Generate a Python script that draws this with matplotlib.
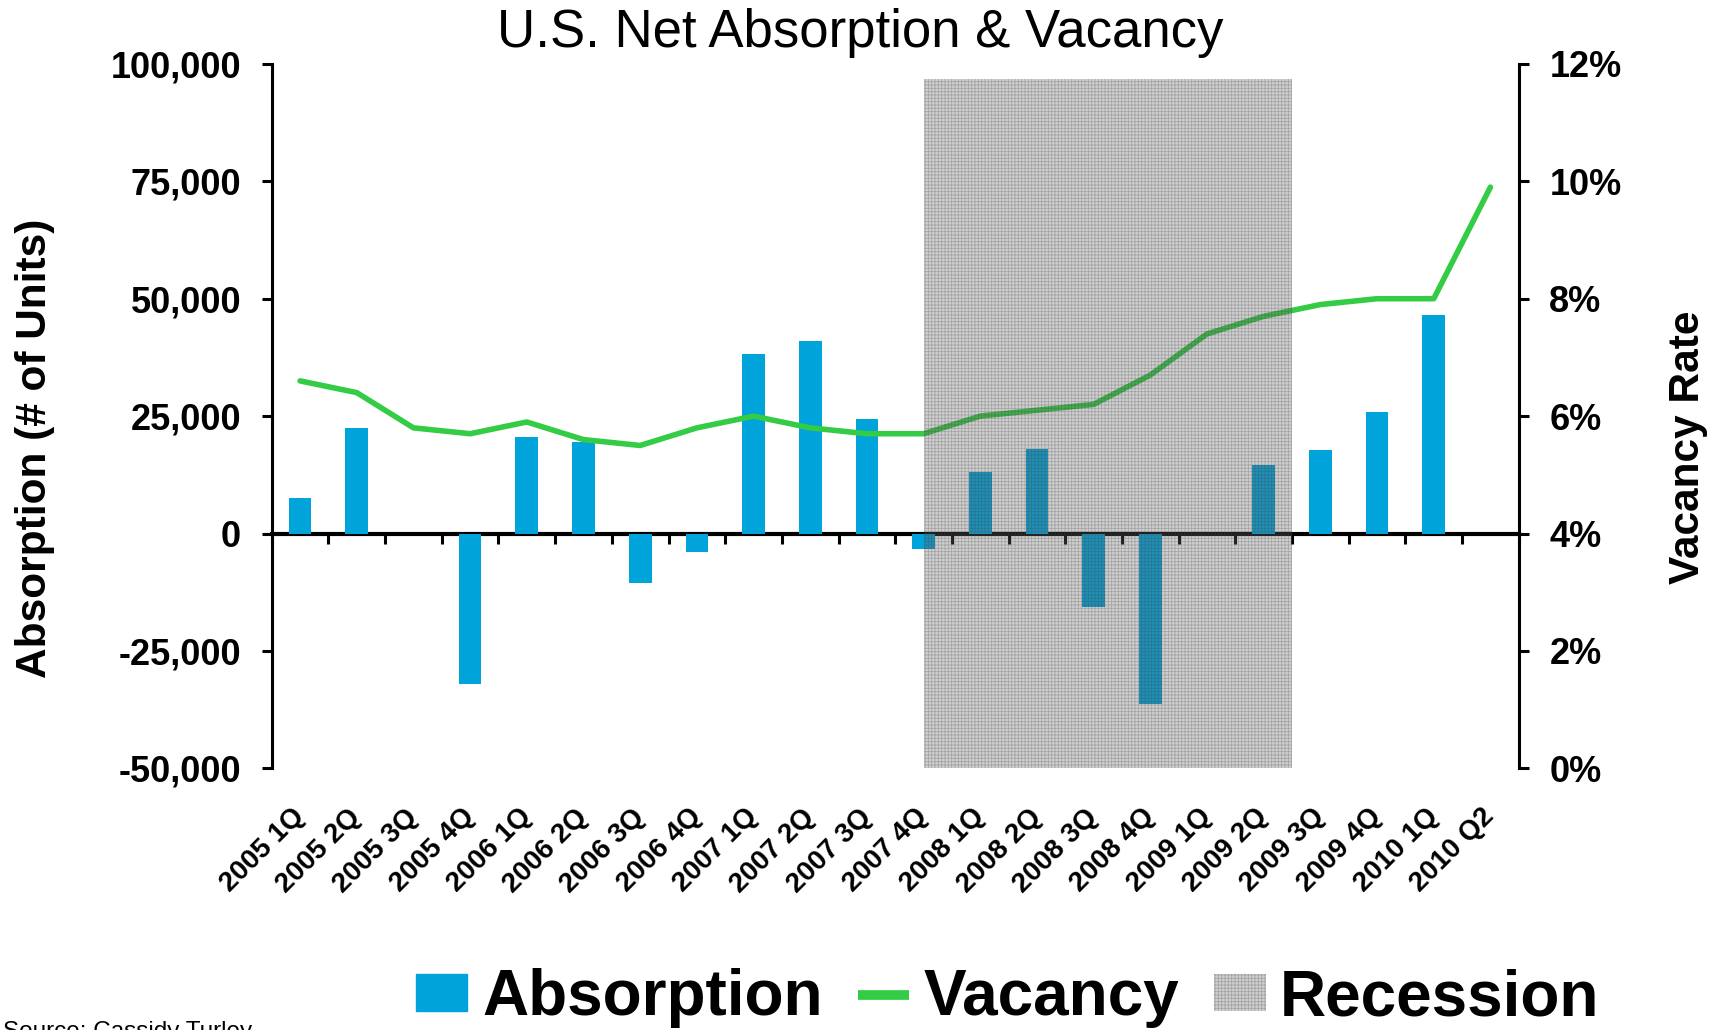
import matplotlib.pyplot as plt
import matplotlib.patches as mpatches
import matplotlib.ticker as mticker
from matplotlib.lines import Line2D
import numpy as np

plt.rcParams['font.family'] = ['Liberation Sans', 'DejaVu Sans']
plt.rcParams['hatch.linewidth'] = 0.6

quarters = ["2005 1Q", "2005 2Q", "2005 3Q", "2005 4Q",
            "2006 1Q", "2006 2Q", "2006 3Q", "2006 4Q",
            "2007 1Q", "2007 2Q", "2007 3Q", "2007 4Q",
            "2008 1Q", "2008 2Q", "2008 3Q", "2008 4Q",
            "2009 1Q", "2009 2Q", "2009 3Q", "2009 4Q",
            "2010 1Q", "2010 Q2"]
absorption = [7500, 22500, 0, -32000,
              20500, 19400, -10500, -4000,
              38300, 40900, 24300, -3300,
              13100, 18000, -15600, -36200,
              0, 14500, 17700, 25900,
              46500, 0]
vacancy = [6.6, 6.4, 5.8, 5.7,
           5.9, 5.6, 5.5, 5.8,
           6.0, 5.8, 5.7, 5.7,
           6.0, 6.1, 6.2, 6.7,
           7.4, 7.7, 7.9, 8.0,
           8.0, 9.9]
# recession band (category positions) and its height on the vacancy axis
rec_start, rec_end = 11.0, 17.5
rec_top = 11.75

blue = '#00a3da'
green = '#33cc44'
rec_face = (0.4, 0.4, 0.4, 0.3)
rec_hatch = (0.25, 0.25, 0.25, 0.3)
x = np.arange(len(quarters))

fig = plt.figure(figsize=(17.2, 10.3), dpi=100)
ax = fig.add_axes([0.158, 0.254, 0.725, 0.684])
ax.bar(x, absorption, width=0.4, color=blue, zorder=2)
ax.set_xlim(-0.5, len(quarters) - 0.5)
ax.set_ylim(-50000, 100000)
ax.yaxis.set_major_locator(mticker.MultipleLocator(25000))
ax.yaxis.set_major_formatter(mticker.FuncFormatter(lambda v, p: f"{int(v):,}"))
ax.set_xticks(x)
ax.set_xticklabels(quarters, rotation=45, ha='right', va='center',
                   rotation_mode='anchor', fontsize=20, fontweight='bold')
ax.tick_params(axis='x', length=0, pad=32)
ax.tick_params(axis='y', labelsize=26, width=2.2, length=7, pad=15, direction='out')
for lab in ax.get_yticklabels():
    lab.set_fontweight('bold')
for s in ['top', 'bottom', 'right']:
    ax.spines[s].set_visible(False)
ax.spines['left'].set_linewidth(2.2)
ax.set_ylabel("Absorption (# of Units)", fontsize=30.5, fontweight='bold')
ax.yaxis.set_label_coords(-0.174, 0.455)

# zero line with ticks between categories
zero = ax.secondary_xaxis(50000 / 150000)
zero.set_xticks(np.arange(-0.5, len(quarters), 1.0))
zero.tick_params(length=7, width=2.2, direction='out', labelbottom=False)
zero.spines['bottom'].set_linewidth(3)

ax2 = ax.twinx()
ax2.plot(x, vacancy, color=green, lw=4, solid_capstyle='round', zorder=2)
ax2.set_ylim(0, 12)
ax2.yaxis.set_major_locator(mticker.MultipleLocator(2))
ax2.yaxis.set_major_formatter(mticker.FuncFormatter(lambda v, p: f"{int(v)}%"))
ax2.tick_params(axis='y', labelsize=26, width=2.2, length=7, pad=15, direction='out')
for lab in ax2.get_yticklabels():
    lab.set_fontweight('bold')
for s in ['top', 'bottom', 'left']:
    ax2.spines[s].set_visible(False)
ax2.spines['right'].set_linewidth(2.2)
ax2.set_ylabel("Vacancy Rate", fontsize=30.5, fontweight='bold')
ax2.yaxis.set_label_coords(1.12, 0.456)

ax2.fill_between([rec_start, rec_end], 0, rec_top,
                 facecolor=rec_face, edgecolor=rec_hatch, hatch='+++++',
                 linewidth=0, zorder=5)

fig.text(0.5, 0.968, "U.S. Net Absorption & Vacancy", ha='center', va='center', fontsize=38)
fig.text(0.002, 0.0087, "Source: Cassidy Turley", ha='left', va='top', fontsize=17.5)

handles = [mpatches.Patch(color=blue),
           Line2D([], [], color=green, lw=7, solid_capstyle='butt'),
           mpatches.Patch(facecolor=rec_face, edgecolor=rec_hatch, hatch='+++++', linewidth=0)]
fig.legend(handles, ["Absorption", "Vacancy", "Recession"], loc='center',
           bbox_to_anchor=(0.586, 0.031), ncol=3, frameon=False,
           prop={'size': 46, 'weight': 'bold'}, handlelength=0.8, handleheight=0.5,
           handletextpad=0.23, columnspacing=0.55)

fig.savefig("out.png", dpi=100)
